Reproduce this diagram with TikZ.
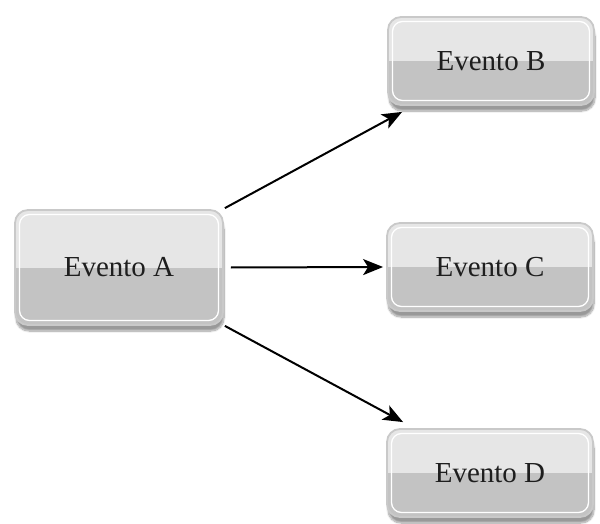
\documentclass[tikz,border=0pt]{standalone}
\usepackage{fontspec}
\setmainfont{Liberation Serif}
\usetikzlibrary{arrows.meta,calc,shadows.blur}

\definecolor{boxtop}{HTML}{E6E6E6}
\definecolor{boxbot}{HTML}{C3C3C3}
\definecolor{boxedge}{HTML}{C9C9C9}
\definecolor{labeltext}{HTML}{1E1E1E}

\tikzset{
  evbox/.style={
    rounded corners=13pt, draw=boxedge, line width=1.8pt,
    minimum width=206pt, minimum height=88pt, inner sep=0pt,
    text=labeltext, font=\fontsize{29}{31}\selectfont,
    blur shadow={shadow xshift=1pt, shadow yshift=-6pt, shadow blur steps=10, shadow opacity=40},
    path picture={
      \fill[boxtop, sharp corners] (path picture bounding box.north west) rectangle (path picture bounding box.east);
      \fill[boxbot, sharp corners] (path picture bounding box.west) rectangle (path picture bounding box.south east);
      \draw[white, line width=1.3pt, rounded corners=10pt]
        ($(path picture bounding box.north west)+(4.5,4.5)$) rectangle
        ($(path picture bounding box.south east)+(-4.5,-4.5)$);
    }
  },
  link/.style={line width=2pt, black, -{Stealth[length=20pt, width=16pt, inset=5pt]}}
}

\begin{document}
\begin{tikzpicture}[x=1pt, y=-1pt]
  \useasboundingbox (0,0) rectangle (600,524);

  \node[evbox, minimum width=208pt, minimum height=115pt] (A) at (119,267.5) {Evento A};
  \node[evbox] (B) at (491,61) {Evento B};
  \node[evbox] (C) at (490,267) {Evento C};
  \node[evbox] (D) at (490,473) {Evento D};

  \draw[link] ($(A.north east)+(1,-1)$) -- ($(B.south west)+(15,6)$);
  \draw[link] ($(A.east)+(7,0)$) -- ($(C.west)+(-3,0)$);
  \draw[link] ($(A.south east)+(1,0)$) -- ($(D.north west)+(17,-6)$);
\end{tikzpicture}
\end{document}
